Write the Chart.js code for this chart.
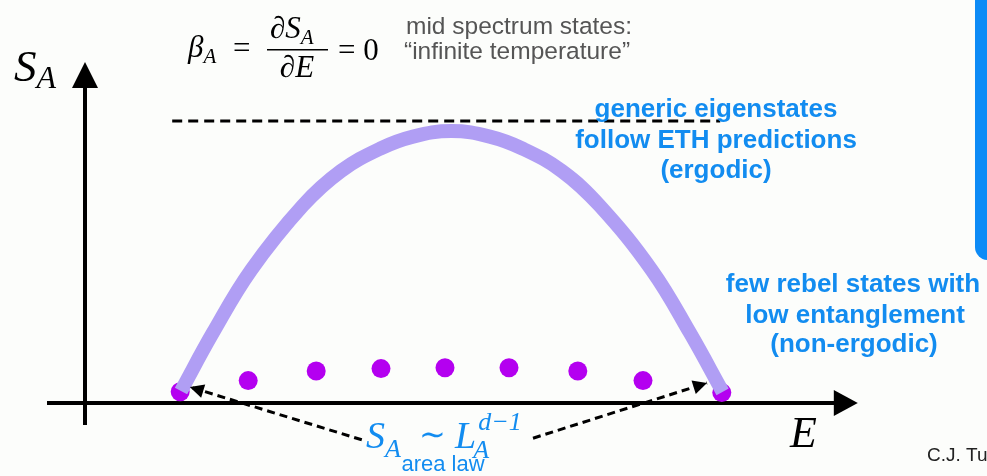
<!DOCTYPE html>
<html>
<head>
<meta charset="utf-8">
<script src="https://cdn.jsdelivr.net/npm/chart.js@4"></script>
<style>
  html, body { margin: 0; padding: 0; background: #fcfdfb; }
  #wrap { width: 987px; height: 476px; position: relative; }
</style>
</head>
<body>
<div id="wrap"><canvas id="c"></canvas></div>
<script>
// entanglement entropy S_A vs energy E (arbitrary units)
const curveE = [1.20, 1.60, 2.075, 2.725, 3.20, 3.69, 4.10, 4.58, 5.06, 5.47, 5.96, 6.43, 7.085, 7.56, 7.97];
const curveS = [0.15, 0.88, 1.66, 2.47, 2.90, 3.18, 3.33, 3.40, 3.33, 3.18, 2.90, 2.47, 1.66, 0.88, 0.14];

// low entanglement "rebel" states
const rebelE = [1.19, 2.04, 2.89, 3.70, 4.50, 5.30, 6.16, 6.975, 7.96];
const rebelS = [0.14, 0.28, 0.40, 0.43, 0.44, 0.44, 0.40, 0.28, 0.13];

// max entropy level (dashed)
const maxE = [1.09, 7.94];
const maxS = [3.525, 3.525];

// area law arrows: [tail, tip]
const leftArrowE = [3.46, 1.31];
const leftArrowS = [-0.46, 0.20];
const rightArrowE = [5.60, 7.775];
const rightArrowS = [-0.44, 0.25];

// axis extents
const xAxisE = [-0.475, 9.66];
const yAxisS = [-0.275, 4.2625];

const pts = (xs, ys) => xs.map((x, i) => ({ x: x, y: ys[i] }));

const BLUE = '#128cf0';

function arrowHead(ctx, x0, y0, x1, y1, len, half) {
    const a = Math.atan2(y1 - y0, x1 - x0);
    ctx.beginPath();
    ctx.moveTo(x1, y1);
    ctx.lineTo(x1 - len * Math.cos(a) + half * Math.sin(a), y1 - len * Math.sin(a) - half * Math.cos(a));
    ctx.lineTo(x1 - len * Math.cos(a) - half * Math.sin(a), y1 - len * Math.sin(a) + half * Math.cos(a));
    ctx.closePath();
    ctx.fill();
}

// text followed by a subscript / superscript, returns end x
function withScript(ctx, main, mainFont, x, y, script, scriptFont, dy) {
    ctx.font = mainFont;
    ctx.fillText(main, x, y);
    const w = ctx.measureText(main).width;
    ctx.font = scriptFont;
    ctx.fillText(script, x + w, y + dy);
    return x + w + ctx.measureText(script).width;
}

const slidePlugin = {
    id: 'slide',
    beforeDraw(chart) {
        const ctx = chart.ctx;
        ctx.save();
        ctx.fillStyle = '#fcfdfb';
        ctx.fillRect(0, 0, chart.width, chart.height);
        // blue box at right edge
        ctx.fillStyle = '#0d8bf6';
        ctx.beginPath();
        ctx.roundRect(975, -20, 40, 280, 13);
        ctx.fill();
        ctx.restore();
    },
    beforeDatasetsDraw(chart) {
        const ctx = chart.ctx, x = chart.scales.x, y = chart.scales.y;
        ctx.save();
        ctx.strokeStyle = '#000';
        ctx.fillStyle = '#000';
        ctx.lineWidth = 4;
        const x0 = x.getPixelForValue(0), y0 = y.getPixelForValue(0);
        // E axis
        const xa = x.getPixelForValue(xAxisE[0]), xb = x.getPixelForValue(xAxisE[1]);
        ctx.beginPath();
        ctx.moveTo(xa, y0);
        ctx.lineTo(xb - 20, y0);
        ctx.stroke();
        arrowHead(ctx, xa, y0, xb, y0, 24, 13);
        // S_A axis
        const ya = y.getPixelForValue(yAxisS[0]), yb = y.getPixelForValue(yAxisS[1]);
        ctx.beginPath();
        ctx.moveTo(x0, ya);
        ctx.lineTo(x0, yb + 20);
        ctx.stroke();
        arrowHead(ctx, x0, ya, x0, yb, 26, 13);
        ctx.restore();
    },
    afterDatasetsDraw(chart) {
        const ctx = chart.ctx, x = chart.scales.x, y = chart.scales.y;
        ctx.save();
        ctx.fillStyle = '#000';
        [[leftArrowE, leftArrowS], [rightArrowE, rightArrowS]].forEach(([es, ss]) => {
            arrowHead(ctx,
                x.getPixelForValue(es[0]), y.getPixelForValue(ss[0]),
                x.getPixelForValue(es[1]), y.getPixelForValue(ss[1]), 14, 7);
        });
        ctx.restore();
    },
    afterDraw(chart) {
        const ctx = chart.ctx;
        ctx.save();
        ctx.textBaseline = 'alphabetic';
        ctx.textAlign = 'left';
        const it = (s) => 'italic ' + s + 'px "Liberation Serif"';
        const rm = (s) => s + 'px "Liberation Serif"';

        // axis labels
        ctx.fillStyle = '#000';
        withScript(ctx, 'S', it(45), 14, 81, 'A', it(32), 7);
        ctx.font = it(44);
        ctx.fillText('E', 790, 447);

        // beta_A = dS_A/dE = 0
        withScript(ctx, 'β', it(31), 188, 57, 'A', it(21), 6);
        ctx.font = rm(31);
        ctx.fillText('=', 233, 58);
        withScript(ctx, '∂S', it(31), 270, 38, 'A', it(21), 6);
        ctx.fillRect(267, 49, 61, 1.5);
        ctx.font = it(31);
        ctx.textAlign = 'center';
        ctx.fillText('∂E', 297, 77);
        ctx.textAlign = 'left';
        ctx.font = rm(31);
        ctx.fillText('= 0', 338, 60);

        ctx.fillStyle = '#555';
        ctx.font = '24.5px "Liberation Sans"';
        ctx.fillText('mid spectrum states:', 406, 34);
        ctx.fillText('\u201Cinfinite temperature\u201D', 404, 59);

        // blue annotations
        ctx.fillStyle = BLUE;
        ctx.textAlign = 'center';
        ctx.font = 'bold 26px "Liberation Sans"';
        ctx.fillText('generic eigenstates', 716, 117);
        ctx.fillText('follow ETH predictions', 716, 148);
        ctx.fillText('(ergodic)', 716, 178);
        ctx.fillText('few rebel states with', 853, 292);
        ctx.fillText('low entanglement', 855, 323);
        ctx.fillText('(non-ergodic)', 854, 352);

        // S_A ~ L_A^{d-1}
        ctx.textAlign = 'left';
        withScript(ctx, 'S', it(38), 366, 448, 'A', it(26), 9);
        ctx.font = rm(32);
        ctx.fillText('\u223C', 419, 445);
        ctx.font = it(38);
        ctx.fillText('L', 455, 448);
        const lw = ctx.measureText('L').width;
        ctx.font = it(26);
        ctx.fillText('d\u22121', 455 + lw + 2, 430);
        ctx.fillText('A', 455 + lw - 3, 458);
        ctx.font = '22px "Liberation Sans"';
        ctx.textAlign = 'center';
        ctx.fillText('area law', 443, 471);

        // credit
        ctx.fillStyle = '#222';
        ctx.textAlign = 'left';
        ctx.font = '19px "Liberation Sans"';
        ctx.fillText('C.J. Turner', 927, 461);
        ctx.restore();
    }
};

new Chart(document.getElementById('c'), {
    type: 'scatter',
    data: {
        datasets: [
            {
                label: 'ETH eigenstates',
                data: pts(curveE, curveS),
                showLine: true,
                borderColor: '#b09ef4',
                borderWidth: 14,
                pointRadius: 0,
                tension: 0.4,
                clip: false
            },
            {
                label: 'max',
                data: pts(maxE, maxS),
                showLine: true,
                borderColor: '#000',
                borderWidth: 3,
                borderDash: [10, 6],
                pointRadius: 0,
                clip: false
            },
            {
                label: 'left arrow',
                data: pts(leftArrowE, leftArrowS),
                showLine: true,
                borderColor: '#000',
                borderWidth: 3,
                borderDash: [8, 5],
                pointRadius: 0,
                clip: false
            },
            {
                label: 'right arrow',
                data: pts(rightArrowE, rightArrowS),
                showLine: true,
                borderColor: '#000',
                borderWidth: 3,
                borderDash: [8, 5],
                pointRadius: 0,
                clip: false
            },
            {
                label: 'rebel states',
                data: pts(rebelE, rebelS),
                showLine: false,
                backgroundColor: '#b400f0',
                borderWidth: 0,
                pointRadius: 9.5,
                clip: false
            }
        ]
    },
    options: {
        responsive: true,
        maintainAspectRatio: false,
        animation: false,
        layout: { padding: { left: 45, right: 126, top: 61, bottom: 51 } },
        plugins: {
            legend: { display: false },
            tooltip: { enabled: false }
        },
        scales: {
            x: { type: 'linear', min: -0.5, max: 9.7, display: false },
            y: { type: 'linear', min: -0.275, max: 4.275, display: false }
        }
    },
    plugins: [slidePlugin]
});
</script>
</body>
</html>
